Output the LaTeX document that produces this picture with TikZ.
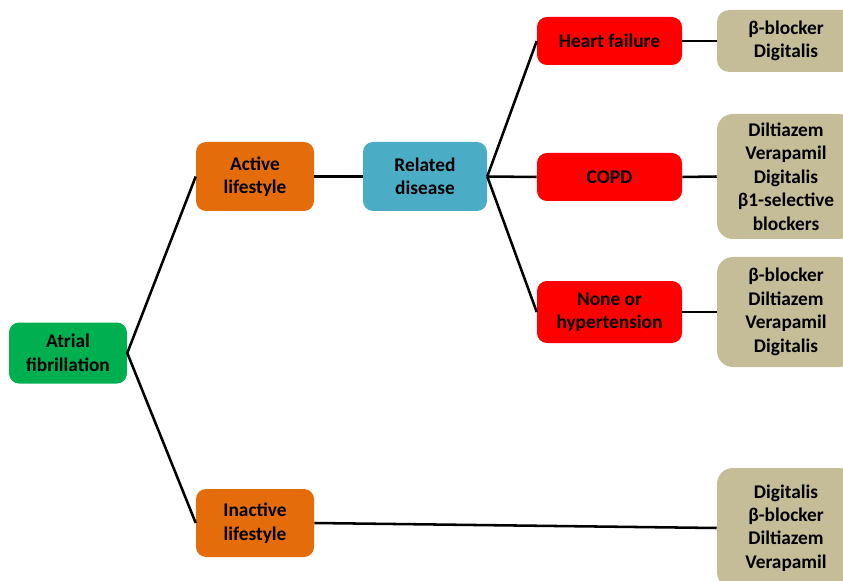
\documentclass[tikz,border=0pt]{standalone}
\usepackage{fontspec}
\setmainfont{Carlito}
\usepackage{tikz}
\definecolor{AFGreen}{HTML}{00B050}
\definecolor{LifeOrange}{HTML}{E46C0A}
\definecolor{DiseaseBlue}{HTML}{4BACC6}
\definecolor{CondRed}{HTML}{FF0000}
\definecolor{DrugTan}{HTML}{C4BD97}

\begin{document}
\begin{tikzpicture}[x=0.75pt,y=-0.75pt,
    box/.style={rounded corners=7.5pt,align=center,inner sep=0pt,
      font=\fontsize{14.5}{17.6}\selectfont\bfseries},
    drug/.style={box,fill=DrugTan,rounded corners=12pt,minimum width=103.5pt},
    link/.style={line width=1.9pt}]
    \useasboundingbox (0,0) rectangle (843,581);
    \clip (0,0) rectangle (843,581);
    \node[box,fill=AFGreen,minimum width=88.5pt,minimum height=45.75pt]
      (af) at (68,353) {Atrial\\fibrillation};
    \node[box,fill=LifeOrange,minimum width=88.5pt,minimum height=51.75pt]
      (active) at (255,176.5) {Active\\lifestyle};
    \node[box,fill=LifeOrange,minimum width=88.5pt,minimum height=51pt]
      (inactive) at (255,523) {Inactive\\lifestyle};
    \node[box,fill=DiseaseBlue,minimum width=93pt,minimum height=51.75pt]
      (related) at (425,176.5) {Related\\disease};
    \node[box,fill=CondRed,minimum width=108.75pt,minimum height=36pt]
      (heart) at (609.5,41) {Heart failure};
    \node[box,fill=CondRed,minimum width=108.75pt,minimum height=36pt]
      (copd) at (609.5,177) {COPD};
    \node[box,fill=CondRed,minimum width=108.75pt,minimum height=46.5pt]
      (none) at (609.5,312) {None or\\hypertension};
    \node[drug,minimum height=46.5pt,rounded corners=9pt]
      (drugA) at (786,41) {β-blocker\\Digitalis};
    \node[drug,minimum height=93.75pt]
      (drugB) at (786,176.5) {Diltiazem\\Verapamil\\Digitalis\\β1-selective\\blockers};
    \node[drug,minimum height=82.5pt]
      (drugC) at (786,312) {β-blocker\\Diltiazem\\Verapamil\\Digitalis};
    \node[drug,minimum height=90pt]
      (drugD) at (786,528) {Digitalis\\β-blocker\\Diltiazem\\Verapamil};
    \foreach \a/\b in {af/active,af/inactive,active/related,related/heart,
      related/copd,related/none,heart/drugA,copd/drugB,none/drugC,inactive/drugD}
      \draw[link] (\a.east) -- (\b.west);
\end{tikzpicture}
\end{document}
